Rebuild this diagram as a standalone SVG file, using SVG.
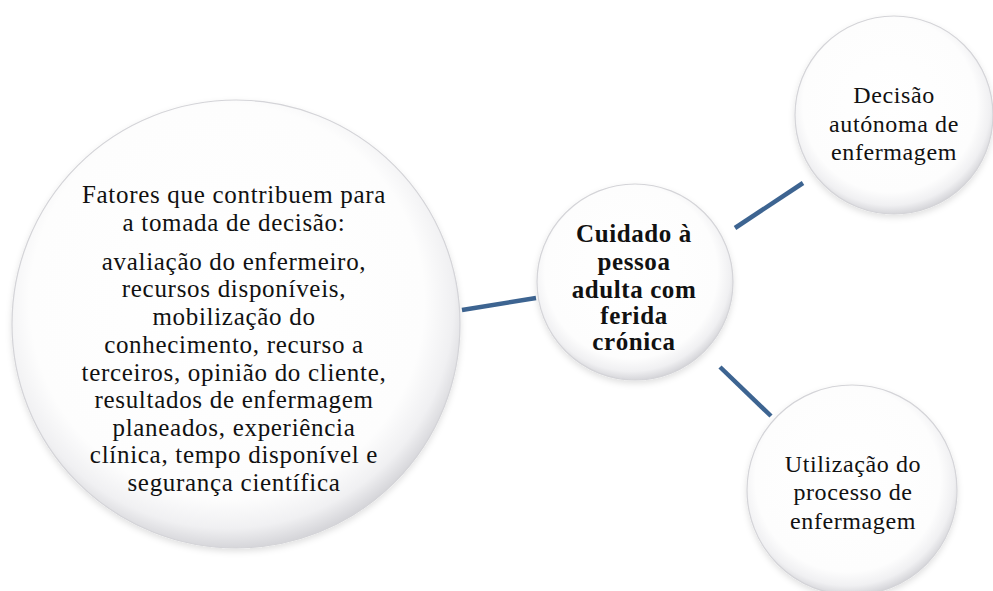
<svg xmlns="http://www.w3.org/2000/svg" width="993" height="591" viewBox="0 0 993 591">
<defs>
<radialGradient id="bev" cx="0.48" cy="0.45" r="0.55">
<stop offset="0" stop-color="#ffffff"/>
<stop offset="0.8" stop-color="#fdfdfd"/>
<stop offset="0.92" stop-color="#f0f0f2"/>
<stop offset="1" stop-color="#d6d6da"/>
</radialGradient>
<filter id="sh" x="-10%" y="-10%" width="120%" height="125%">
<feDropShadow dx="0" dy="3" stdDeviation="3" flood-color="#000" flood-opacity="0.12"/>
</filter>
</defs>
<style>
.c{fill:url(#bev);stroke:#d4d4d8;stroke-width:1.2;filter:url(#sh)}
text{fill:#111;text-anchor:middle}
.t{font-size:24px;letter-spacing:0.6px}
.f{font-size:25px;letter-spacing:0.7px}
.b{font-weight:bold;font-size:25px;letter-spacing:0.6px}
.e{stroke:#3d6491;stroke-width:4.5;fill:none}
</style>
<rect width="993" height="591" fill="#fff"/>
<g id="connectors">
<line class="e" x1="462" y1="310" x2="536" y2="298"/>
<line class="e" x1="735" y1="228" x2="803" y2="183"/>
<line class="e" x1="720" y1="367" x2="771" y2="416"/>
</g>
<g id="factors" font-family="Liberation Serif, Times New Roman, serif">
<circle class="c" cx="236" cy="324" r="224"/>
<text class="f" x="234" y="203" font-family="Liberation Serif">Fatores que contribuem para</text>
<text class="f" x="234" y="231" font-family="Liberation Serif">a tomada de decisão:</text>
<text class="f" x="234" y="270" font-family="Liberation Serif">avaliação do enfermeiro,</text>
<text class="f" x="234" y="297" font-family="Liberation Serif">recursos disponíveis,</text>
<text class="f" x="234" y="325" font-family="Liberation Serif">mobilização do</text>
<text class="f" x="234" y="353" font-family="Liberation Serif">conhecimento, recurso a</text>
<text class="f" x="234" y="381" font-family="Liberation Serif">terceiros, opinião do cliente,</text>
<text class="f" x="234" y="408" font-family="Liberation Serif">resultados de enfermagem</text>
<text class="f" x="234" y="436" font-family="Liberation Serif">planeados, experiência</text>
<text class="f" x="234" y="463" font-family="Liberation Serif">clínica, tempo disponível e</text>
<text class="f" x="234" y="491" font-family="Liberation Serif">segurança científica</text>
</g>
<g id="center">
<circle class="c" cx="635" cy="282" r="98"/>
<text class="b" x="634" y="242" font-family="Liberation Serif">Cuidado à</text>
<text class="b" x="634" y="270" font-family="Liberation Serif">pessoa</text>
<text class="b" x="634" y="298" font-family="Liberation Serif">adulta com</text>
<text class="b" x="634" y="324" font-family="Liberation Serif">ferida</text>
<text class="b" x="634" y="350" font-family="Liberation Serif">crónica</text>
</g>
<g id="decisao">
<circle class="c" cx="894" cy="115" r="99"/>
<text class="t" x="894" y="103" font-family="Liberation Serif">Decisão</text>
<text class="t" x="894" y="132" font-family="Liberation Serif">autónoma de</text>
<text class="t" x="894" y="160" font-family="Liberation Serif">enfermagem</text>
</g>
<g id="processo">
<circle class="c" cx="852" cy="490" r="105"/>
<text class="t" x="853" y="472" font-family="Liberation Serif">Utilização do</text>
<text class="t" x="853" y="500" font-family="Liberation Serif">processo de</text>
<text class="t" x="853" y="529" font-family="Liberation Serif">enfermagem</text>
</g>
</svg>
